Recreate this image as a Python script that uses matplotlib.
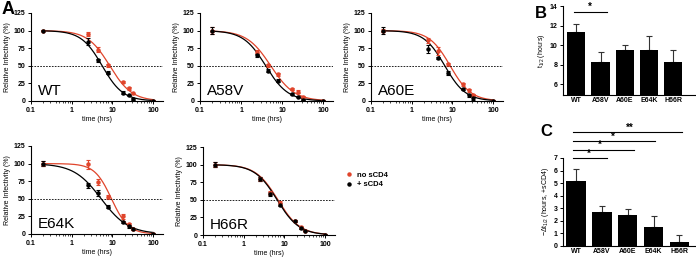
import numpy as np
import matplotlib
matplotlib.use('Agg')
from matplotlib import pyplot as plt
from matplotlib.lines import Line2D
from matplotlib.ticker import LogLocator, NullFormatter

plt.rcParams['font.family'] = ['Liberation Sans', 'DejaVu Sans']
plt.rcParams['font.weight'] = 'bold'
plt.rcParams['mathtext.default'] = 'regular'

RED = '#e0452c'

# ---- data ----
times = [0.2, 2.5, 4.5, 8, 18, 25, 32, 100]
mutants = ['WT', 'A58V', 'A60E', 'E64K', 'H66R']

no_scd4 = {
    'WT':   [100, 95, 73, 51, 27, 18, 11, 0],
    'A58V': [100, 70, 51, 38, 17, 13, 6, 0],
    'A60E': [100, 86, 71, 52, 24, 15, 9, 0],
    'E64K': [100, 99, 74, 53, 25, 14, 7, 0],
    'H66R': [100, 80, 60, 45, 20, 11, 6, 0],
}
no_scd4_err = {
    'WT':   [1, 3, 3, 2, 2, 2, 1, 1],
    'A58V': [5, 2, 2, 2, 2, 2, 1, 1],
    'A60E': [2, 3, 6, 2, 2, 2, 1, 1],
    'E64K': [3, 6, 4, 3, 4, 2, 1, 1],
    'H66R': [3, 3, 3, 3, 2, 2, 1, 1],
}
plus_scd4 = {
    'WT':   [100, 84, 58, 40, 12, 8, 3, 0],
    'A58V': [100, 65, 43, 29, 10, 6, 2, 0],
    'A60E': [100, 74, 61, 40, 17, 8, 4, 0],
    'E64K': [100, 69, 58, 39, 17, 11, 7, 0],
    'H66R': [100, 79, 58, 43, 20, 10, 6, 0],
}
plus_scd4_err = {
    'WT':   [1, 5, 2, 2, 2, 1, 1, 1],
    'A58V': [5, 2, 2, 2, 1, 1, 1, 1],
    'A60E': [5, 6, 2, 3, 2, 2, 3, 1],
    'E64K': [3, 4, 4, 2, 2, 2, 2, 1],
    'H66R': [3, 3, 3, 2, 2, 2, 1, 1],
}
# fitted decay curves: half-life (hrs) and hill slope
fit_no = {'WT': (8.6, 1.6), 'A58V': (5.3, 1.5), 'A60E': (8.8, 1.7),
          'E64K': (9.5, 2.1), 'H66R': (6.9, 1.6)}
fit_plus = {'WT': (5.6, 1.7), 'A58V': (4.0, 1.6), 'A60E': (6.5, 1.7),
            'E64K': (5.3, 1.3), 'H66R': (6.6, 1.6)}

thalf = [11.3, 8.3, 9.5, 9.5, 8.3]
thalf_err = [0.9, 1.0, 0.5, 1.4, 1.2]
dthalf = [5.2, 2.7, 2.45, 1.55, 0.35]
dthalf_err = [0.95, 0.5, 0.5, 0.85, 0.55]

W, H = 696, 257
fig = plt.figure(figsize=(W / 100, H / 100), dpi=100)


def px_axes(x0, y0, x1, y1):
    return fig.add_axes([x0 / W, 1 - y1 / H, (x1 - x0) / W, (y1 - y0) / H])


def style(ax):
    for s in ['top', 'right']:
        ax.spines[s].set_visible(False)
    for s in ['left', 'bottom']:
        ax.spines[s].set_linewidth(0.8)
    ax.tick_params(which='major', length=2.5, width=0.7, labelsize=5, pad=1.5)
    ax.tick_params(which='minor', length=1.5, width=0.5)


boxes = {'WT': (31, 13, 163, 101), 'A58V': (200, 13, 333, 101),
         'A60E': (371, 13, 503, 101), 'E64K': (31, 146, 163, 234),
         'H66R': (203, 147, 335, 235)}

tt = np.logspace(np.log10(0.2), 2, 200)
for m in mutants:
    ax = px_axes(*boxes[m])
    for fit, col in [(fit_no[m], RED), (fit_plus[m], 'black')]:
        t50, h = fit
        ax.plot(tt, 100 / (1 + (tt / t50) ** h), color=col, lw=0.9)
    ax.errorbar(times, no_scd4[m], yerr=no_scd4_err[m], fmt='o', color=RED,
                ms=2.2, elinewidth=0.8, capsize=1.5, capthick=0.8)
    ax.errorbar(times, plus_scd4[m], yerr=plus_scd4_err[m], fmt='o', color='black',
                ms=2.2, elinewidth=0.8, capsize=1.5, capthick=0.8)
    ax.axhline(50, color='black', lw=0.6, ls=(0, (2, 1.5)))
    ax.set_xscale('log')
    ax.set_xlim(0.1, 175)
    ax.set_ylim(0, 125)
    ax.set_xticks([0.1, 1, 10, 100])
    ax.set_xticklabels(['0.1', '1', '10', '100'])
    ax.xaxis.set_minor_locator(LogLocator(subs=np.arange(2, 10)))
    ax.xaxis.set_minor_formatter(NullFormatter())
    ax.set_yticks([0, 25, 50, 75, 100, 125])
    style(ax)
    ax.set_xlabel('time (hrs)', fontsize=5, labelpad=2)
    ax.set_ylabel('Relative Infectivity (%)', fontsize=5, labelpad=2)
    ax.text(0.05, 0.07, m, transform=ax.transAxes, fontsize=11,
            fontweight='normal', ha='left', va='baseline')

handles = [Line2D([], [], marker='o', color=RED, ls='', ms=2.2),
           Line2D([], [], marker='o', color='black', ls='', ms=2.2)]
fig.legend(handles, ['no sCD4', '+ sCD4'], loc='center left',
           bbox_to_anchor=(338 / W, 1 - 180 / H), frameon=False, fontsize=5.5,
           handletextpad=0.4, handlelength=1.2, labelspacing=0.3)

# panel B
x = np.arange(len(mutants))
axb = px_axes(563, 6, 695, 95)
axb.bar(x, thalf, width=0.75, color='black', zorder=2)
axb.errorbar(x, thalf, yerr=[np.zeros(5), thalf_err], fmt='none', ecolor='#333333',
             elinewidth=0.8, capsize=2.5, capthick=0.8, zorder=1)
axb.set_ylim(4.9, 14)
axb.set_xlim(-0.55, 4.9)
axb.set_yticks([6, 8, 10, 12, 14])
axb.set_xticks(x)
axb.set_xticklabels(mutants)
style(axb)
axb.tick_params(axis='x', length=0)
axb.set_ylabel('t$_{1/2}$ (hours)', fontsize=5, labelpad=2)
axb.plot([-0.08, 1.25], [13.4, 13.4], color='black', lw=0.8, clip_on=False)
axb.text(0.54, 13.45, '*', ha='center', va='bottom', fontsize=7)

# panel C
axc = px_axes(563, 158, 695, 246)
axc.bar(x, dthalf, width=0.75, color='black', zorder=2)
axc.errorbar(x, dthalf, yerr=[np.zeros(5), dthalf_err], fmt='none', ecolor='#333333',
             elinewidth=0.8, capsize=2.5, capthick=0.8, zorder=1)
axc.set_ylim(0, 7)
axc.set_xlim(-0.5, 4.6)
axc.set_yticks(range(8))
axc.set_xticks(x)
axc.set_xticklabels(mutants)
style(axc)
axc.tick_params(axis='x', length=0)
axc.set_ylabel('$-\\Delta$t$_{1/2}$ (hours, +sCD4)', fontsize=5, labelpad=2)
sig_y = [7.0, 7.66, 8.35, 9.07]
sig_end = [1.2, 2.25, 3.05, 4.1]
sig_star_x = [0.5, 0.92, 1.42, 2.08]
sig_lbl = ['*', '*', '*', '**']
for yy, xe, xs, lb in zip(sig_y, sig_end, sig_star_x, sig_lbl):
    axc.plot([-0.1, xe], [yy, yy], color='black', lw=0.8, clip_on=False)
    axc.text(xs, yy - 0.05, lb, ha='center', va='bottom', fontsize=7, clip_on=False)

fig.text(2 / W, 1 - 9 / H, 'A', fontsize=13, fontweight='bold', va='center')
fig.text(535 / W, 1 - 13 / H, 'B', fontsize=12, fontweight='bold', va='center')
fig.text(540 / W, 1 - 132 / H, 'C', fontsize=12, fontweight='bold', va='center')

fig.savefig('out.png', dpi=100)
